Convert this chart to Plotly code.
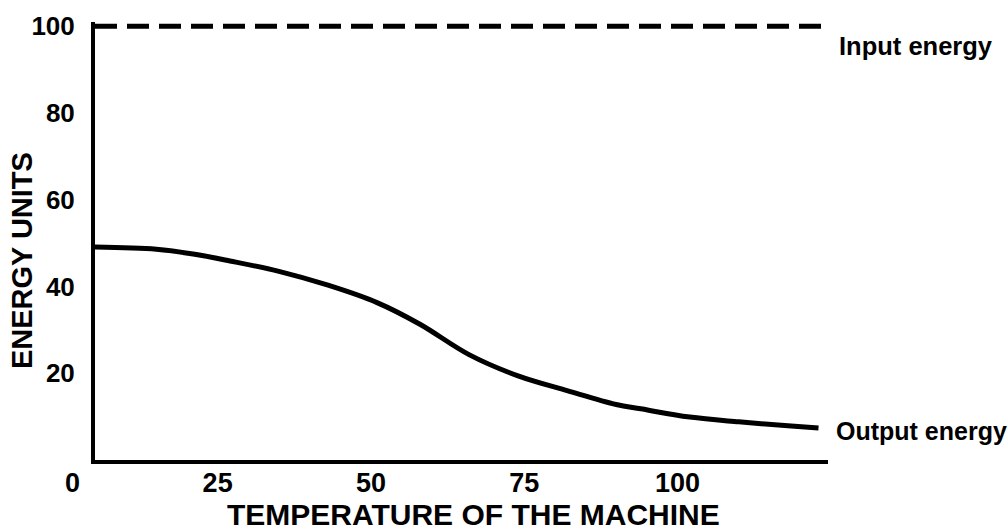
import plotly.graph_objects as go

# Output energy curve, read along the machine-temperature axis
temperature = [5, 15, 21, 27, 35, 43, 51, 58, 66, 74, 82, 90, 94, 102, 110, 118, 123]
output_energy = [49.1, 48.6, 47.5, 45.9, 43.5, 40.3, 36.3, 31.3, 24.3, 19.4, 16.0,
                 12.8, 11.8, 9.9, 8.8, 7.9, 7.4]

# Input energy stays constant across the whole range
input_temperature = [5, 124.5]
input_energy = [100, 100]

x_ticks = [25, 50, 75, 100]
x_tick_text = ["25", "50", "75", "100"]
y_ticks = [20, 40, 60, 80, 100]
y_tick_text = ["20", "40", "60", "80", "100"]

W, H = 1008, 531
L, R, T, B = 95, 180, 13, 71
plot_w = W - L - R
plot_h = H - T - B

FONT = "Liberation Sans, Arial, Helvetica, sans-serif"


def px_to_paper(px, py):
    return (px - L) / plot_w, (H - B - py) / plot_h


fig = go.Figure()

fig.add_trace(go.Scatter(
    x=input_temperature, y=input_energy, mode="lines",
    line=dict(color="black", width=5, dash="22px,10px"),
    hoverinfo="skip", showlegend=False,
))
fig.add_trace(go.Scatter(
    x=temperature, y=output_energy, mode="lines",
    line=dict(color="black", width=5, shape="spline", smoothing=1.0),
    hoverinfo="skip", showlegend=False,
))

annotations = []


def label(text, px, py, size, xanchor="center", angle=0):
    ax, ay = px_to_paper(px, py)
    annotations.append(dict(
        text=text, x=ax, y=ay, xref="paper", yref="paper",
        xanchor=xanchor, yanchor="middle", showarrow=False, textangle=angle,
        font=dict(family=FONT, size=size, color="black", weight="bold"),
    ))


label("Input energy", 837, 37, 25.5, xanchor="left")
label("Output energy", 834, 430, 25, xanchor="left")
label("0", 72, 483, 27)
label("TEMPERATURE OF THE MACHINE", 473, 516, 30)
label("ENERGY UNITS", 22, 257, 29, angle=-90)

fig.update_layout(
    width=W, height=H,
    margin=dict(l=L, r=R, t=T, b=B, pad=0),
    paper_bgcolor="white", plot_bgcolor="white",
    annotations=annotations,
    xaxis=dict(
        range=[5, 124.55], showgrid=False, zeroline=False,
        showline=True, linecolor="black", linewidth=4,
        tickmode="array", tickvals=x_ticks, ticktext=x_tick_text,
        ticks="", tickfont=dict(family=FONT, size=27, color="black", weight="bold"),
        ticklabelstandoff=-4,
    ),
    yaxis=dict(
        range=[0, 101], showgrid=False, zeroline=False,
        showline=True, linecolor="black", linewidth=4,
        tickmode="array", tickvals=y_ticks, ticktext=y_tick_text,
        ticks="", tickfont=dict(family=FONT, size=26, color="black", weight="bold"),
        ticklabelstandoff=11,
    ),
)

fig.write_html("out.html")
